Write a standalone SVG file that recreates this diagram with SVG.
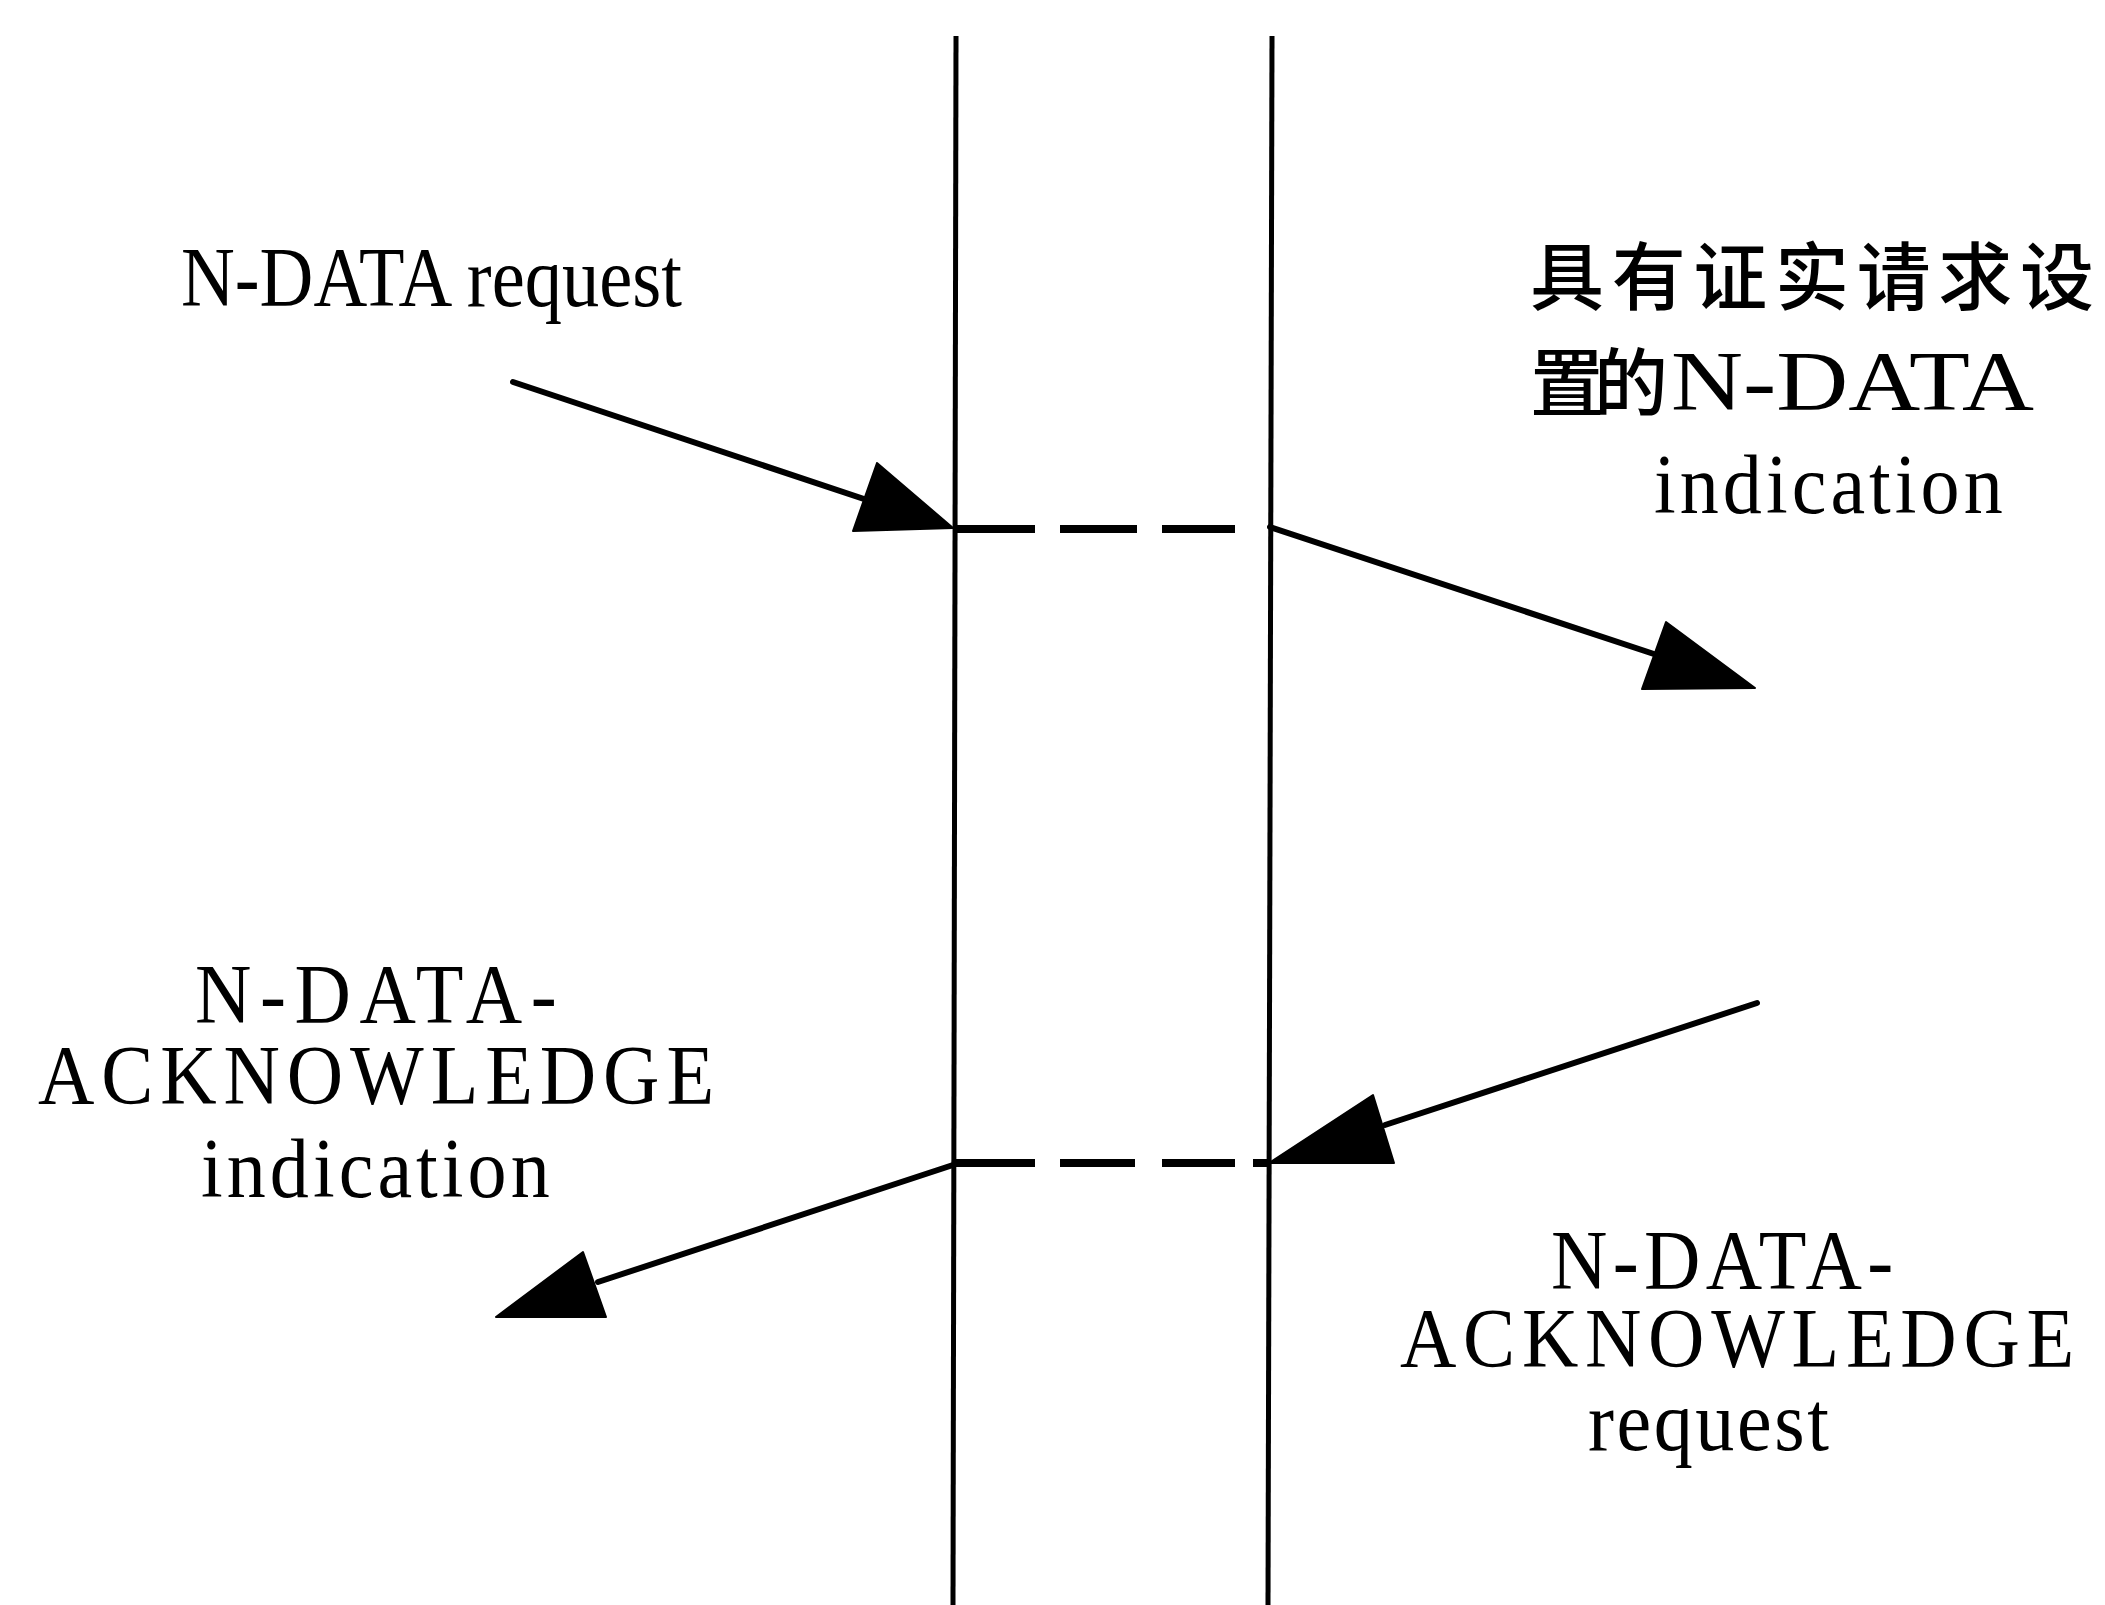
<svg xmlns="http://www.w3.org/2000/svg" width="2105" height="1605" viewBox="0 0 2105 1605">
<style>
.lbl{font-family:"Liberation Serif","Noto Sans CJK SC",serif;font-size:84px;fill:#000}
.cjk{font-family:"Noto Sans CJK SC","Liberation Serif",serif;font-size:74px;fill:#000;font-weight:500}
.life{stroke:#000;stroke-width:5;fill:none}
.arr{stroke:#000;stroke-width:6;fill:none;stroke-linecap:round}
.dash{stroke:#000;stroke-width:8;fill:none}
.head{fill:#000;stroke:#000;stroke-width:2;stroke-linejoin:round}
</style>
<rect width="2105" height="1605" fill="#fff"/>
<g id="lifeline-left"><line class="life" x1="956" y1="36" x2="953" y2="1605"/></g>
<g id="lifeline-right"><line class="life" x1="1272" y1="36" x2="1268" y2="1605"/></g>
<g id="connectors">
  <line class="arr" x1="513" y1="382" x2="885" y2="506"/>
  <polygon class="head" points="953,528 877,463 853,531"/>
  <line class="dash" x1="953" y1="529" x2="1035" y2="529"/>
  <line class="dash" x1="1060" y1="529" x2="1137" y2="529"/>
  <line class="dash" x1="1162" y1="529" x2="1235" y2="529"/>
  <line class="arr" x1="1270" y1="527" x2="1660" y2="656"/>
  <polygon class="head" points="1755,688 1666,622 1642,689"/>
  <line class="arr" x1="1757" y1="1003" x2="1385" y2="1125"/>
  <polygon class="head" points="1269,1163 1373,1095 1394,1163"/>
  <line class="dash" x1="953" y1="1163" x2="1035" y2="1163"/>
  <line class="dash" x1="1060" y1="1163" x2="1135" y2="1163"/>
  <line class="dash" x1="1162" y1="1163" x2="1235" y2="1163"/>
  <line class="dash" x1="1253" y1="1163" x2="1268" y2="1163"/>
  <line class="arr" x1="953" y1="1165" x2="598" y2="1282"/>
  <polygon class="head" points="496,1317 583,1252 606,1317"/>
</g>
<g id="label-ndata-request"><text class="lbl" x="181" y="306" font-size="80" textLength="501" lengthAdjust="spacingAndGlyphs">N-DATA request</text></g>
<g id="label-ndata-indication">
  <text class="cjk" x="1530" y="304" textLength="564" lengthAdjust="spacing">具有证实请求设</text>
  <text class="cjk" x="1530" y="410" textLength="138" lengthAdjust="spacing">置的</text>
  <text class="lbl" x="1671" y="410" font-size="82" textLength="363" lengthAdjust="spacingAndGlyphs">N-DATA</text>
  <text class="lbl" transform="translate(1654,513) scale(0.93,1)" textLength="375" lengthAdjust="spacing">indication</text>
</g>
<g id="label-ack-indication">
  <text class="lbl" transform="translate(195,1023) scale(0.93,1)" textLength="389" lengthAdjust="spacing">N-DATA-</text>
  <text class="lbl" transform="translate(38,1104) scale(0.93,1)" textLength="727" lengthAdjust="spacing">ACKNOWLEDGE</text>
  <text class="lbl" transform="translate(201,1197) scale(0.93,1)" textLength="375" lengthAdjust="spacing">indication</text>
</g>
<g id="label-ack-request">
  <text class="lbl" transform="translate(1551,1289) scale(0.93,1)" textLength="368" lengthAdjust="spacing">N-DATA-</text>
  <text class="lbl" transform="translate(1400,1367) scale(0.93,1)" textLength="725" lengthAdjust="spacing">ACKNOWLEDGE</text>
  <text class="lbl" transform="translate(1588,1450) scale(0.93,1)" textLength="259" lengthAdjust="spacing">request</text>
</g>
</svg>
